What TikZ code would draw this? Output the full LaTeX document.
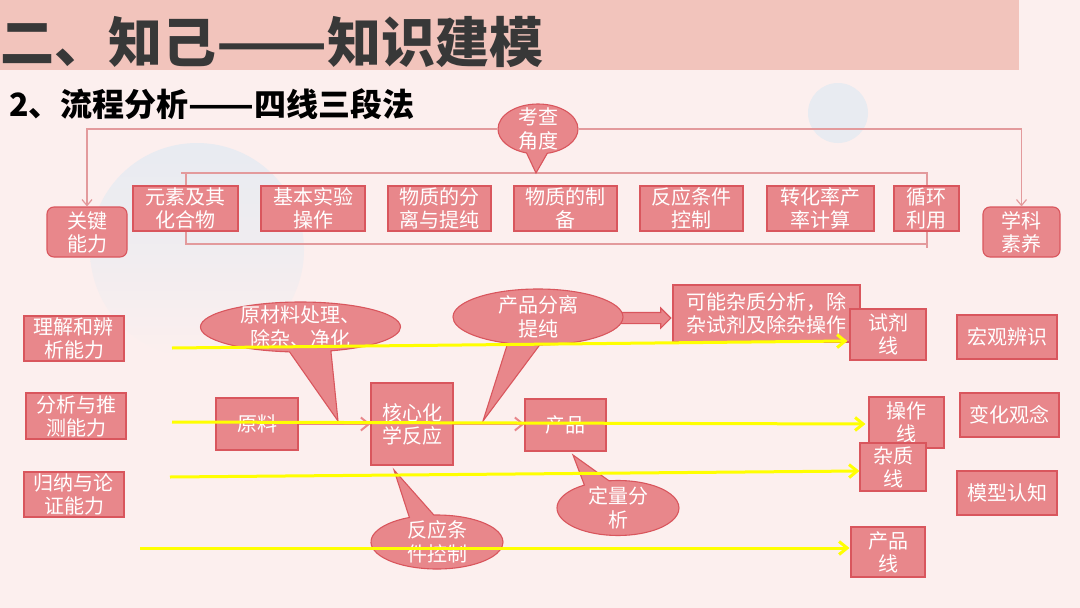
\documentclass[tikz,border=0pt]{standalone}
\usepackage{graphicx}
\usepackage{fontspec}
\setmainfont{Noto Sans CJK SC}
\usetikzlibrary{shapes.callouts,shapes.arrows,arrows.meta,calc}
\definecolor{bgc}{HTML}{FCEFEE}
\definecolor{bandc}{HTML}{F2C4BC}
\definecolor{circc}{HTML}{E8EBF1}
\definecolor{boxfill}{HTML}{E8878B}
\definecolor{boxdraw}{HTML}{D9565D}
\definecolor{connc}{HTML}{E39A9C}
\definecolor{titlec}{HTML}{383838}
\definecolor{yelc}{HTML}{FFFF00}
\newcommand{\widedash}{\scalebox{1.2}[1]{——}}
\begin{document}
\begin{tikzpicture}[x=1pt,y=-1pt,
  box/.style={draw=boxdraw, fill=boxfill, line width=1.1pt, inner sep=0pt, text=white, align=center, font=\fontsize{20}{23}\selectfont},
  rbox/.style={box, rounded corners=7pt},
  bubble/.style={ellipse callout, draw=boxdraw, fill=boxfill, line width=1.1pt, inner sep=0pt},
  btext/.style={text=white, align=center, inner sep=0pt, font=\fontsize{20}{24}\selectfont},
  conn/.style={draw=connc, line width=1.2pt},
  connarrow/.style={conn, -{Straight Barb[length=6pt,width=10pt]}},
  parrow/.style={draw=boxfill, line width=2pt, -{Straight Barb[length=8pt,width=13pt]}},
  yel/.style={draw=yelc, line width=3pt, -{Straight Barb[length=8pt,width=13pt]}},
]
\useasboundingbox (0,0) rectangle (1080,608);
% background
\fill[bgc] (0,0) rectangle (1080,608);
\fill[bandc] (0,0) rectangle (1019,70);
\shade[top color=circc, bottom color=bgc, middle color=circc!60!bgc] (197,250) circle (107);
\fill[circc] (838,113) circle (30);

% titles
\node[anchor=west, inner sep=0pt, text=titlec, font=\fontsize{54}{54}\selectfont\bfseries] (title) at (0,42) {二、知己\widedash 知识建模};
\node[anchor=west, inner sep=0pt, text=black, font=\fontsize{32}{32}\selectfont\bfseries] (sub) at (9,104) {2、流程分析\widedash 四线三段法};

% bracket behind top boxes
\draw[conn] (181,173) -- (927,173) -- (927,248);
\draw[conn] (186,173) -- (186,244) -- (927,244);

% top nodes
\node[rbox, minimum width=80pt, minimum height=50pt] (gj) at (87,232) {关键\\能力};
\node[rbox, minimum width=77pt, minimum height=50pt] (xk) at (1021.5,232) {学科\\素养};
\node[box, minimum width=105pt, minimum height=45pt] (t1) at (185.5,208.5) {元素及其\\化合物};
\node[box, minimum width=104pt, minimum height=45pt] (t2) at (313,208.5) {基本实验\\操作};
\node[box, minimum width=103pt, minimum height=45pt] (t3) at (439.5,208.5) {物质的分\\离与提纯};
\node[box, minimum width=103pt, minimum height=45pt] (t4) at (565.5,208.5) {物质的制\\备};
\node[box, minimum width=103pt, minimum height=45pt] (t5) at (691.5,208.5) {反应条件\\控制};
\node[box, minimum width=107pt, minimum height=45pt] (t6) at (820.5,208.5) {转化率产\\率计算};
\node[box, minimum width=65pt, minimum height=45pt] (t7) at (926.5,208.5) {循环\\利用};

\coordinate (kcTip) at (536,173);
\node[bubble, minimum width=80pt, minimum height=50pt, callout absolute pointer=(kcTip), callout pointer arc=30] (kc) at (538,129) {};
\node[btext] (kcT) at (kc.center) {考查\\角度};
\draw[connarrow] (kc.west) -| (gj.north);
\draw[connarrow] (kc.east) -| (xk.north);

% middle left boxes
\node[box, minimum width=100pt, minimum height=45pt] (L1) at (74,338.5) {理解和辨\\析能力};
\node[box, minimum width=100pt, minimum height=46pt] (L2) at (76,416) {分析与推\\测能力};
\node[box, minimum width=100pt, minimum height=45pt] (L3) at (74,494.5) {归纳与论\\证能力};

% flow
\node[box, minimum width=82pt, minimum height=52pt] (yl) at (257,424) {原料};
\node[box, minimum width=82pt, minimum height=82pt] (hx) at (412,424) {核心化\\学反应};
\node[box, minimum width=81pt, minimum height=52pt] (cp) at (565.5,425) {产品};
\draw[parrow] (yl.east) -- (hx.west);
\draw[parrow] (hx.east) -- (hx.east -| cp.west);

% callouts
\coordinate (c1Tip) at (338,421);
\node[bubble, minimum width=200pt, minimum height=50pt, callout absolute pointer=(c1Tip), callout pointer arc=24] (c1) at (300.5,327) {};
\node[btext] (c1T) at (c1.center) {原材料处理、\\除杂、净化};

\node[box, minimum width=187pt, minimum height=57pt] (kz) at (766.5,313.5) {可能杂质分析，除\\杂试剂及除杂操作};
\node[single arrow, draw=boxdraw, fill=boxfill, line width=1.1pt, inner xsep=0pt, inner ysep=5pt, minimum height=50pt, single arrow head extend=4.5pt, single arrow head indent=0pt] (ba) at (643,318) {};
\coordinate (c2Tip) at (483,421);
\node[bubble, minimum width=170pt, minimum height=56pt, callout absolute pointer=(c2Tip), callout pointer arc=22] (c2) at (538,317) {};
\node[btext] (c2T) at (c2.center) {产品分离\\提纯};

\coordinate (c3Tip) at (573,455);
\node[bubble, minimum width=122pt, minimum height=55pt, callout absolute pointer=(c3Tip), callout pointer arc=25] (c3) at (618,508) {};
\node[btext] (c3T) at (c3.center) {定量分\\析};

\coordinate (c4Tip) at (394,470);
\node[bubble, minimum width=132pt, minimum height=54pt, callout absolute pointer=(c4Tip), callout pointer arc=22] (c4) at (437,542) {};
\node[btext] (c4T) at (c4.center) {反应条\\件控制};

% right column
\node[box, minimum width=76pt, minimum height=51pt] (sj) at (888,334.5) {试剂\\线};
\node[box, minimum width=75pt, minimum height=51pt] (cz) at (906.5,422.5) {操作\\线};
\node[box, minimum width=66pt, minimum height=48pt] (zz) at (893,467) {杂质\\线};
\node[box, minimum width=74pt, minimum height=50pt] (cx) at (888,552) {产品\\线};
\node[box, minimum width=100pt, minimum height=44pt] (R1) at (1007,337) {宏观辨识};
\node[box, minimum width=99pt, minimum height=44pt] (R2) at (1009.5,415) {变化观念};
\node[box, minimum width=100pt, minimum height=44pt] (R3) at (1007,493) {模型认知};

% yellow lines
\coordinate (y1s) at (172,348);
\coordinate (y2s) at (172,422);
\coordinate (y3s) at (170,477);
\coordinate (y4s) at (140,548);
\draw[yel] (y1s) -- ($(sj.west)+(-2,6.5)$);
\draw[yel] (y2s) -- ($(cz.west)+(-3,1.5)$);
\draw[yel] (y3s) -- ($(zz.west)+(0,4)$);
\draw[yel] (y4s) -- ($(cx.west)+(-1,-4)$);
\end{tikzpicture}
\end{document}
